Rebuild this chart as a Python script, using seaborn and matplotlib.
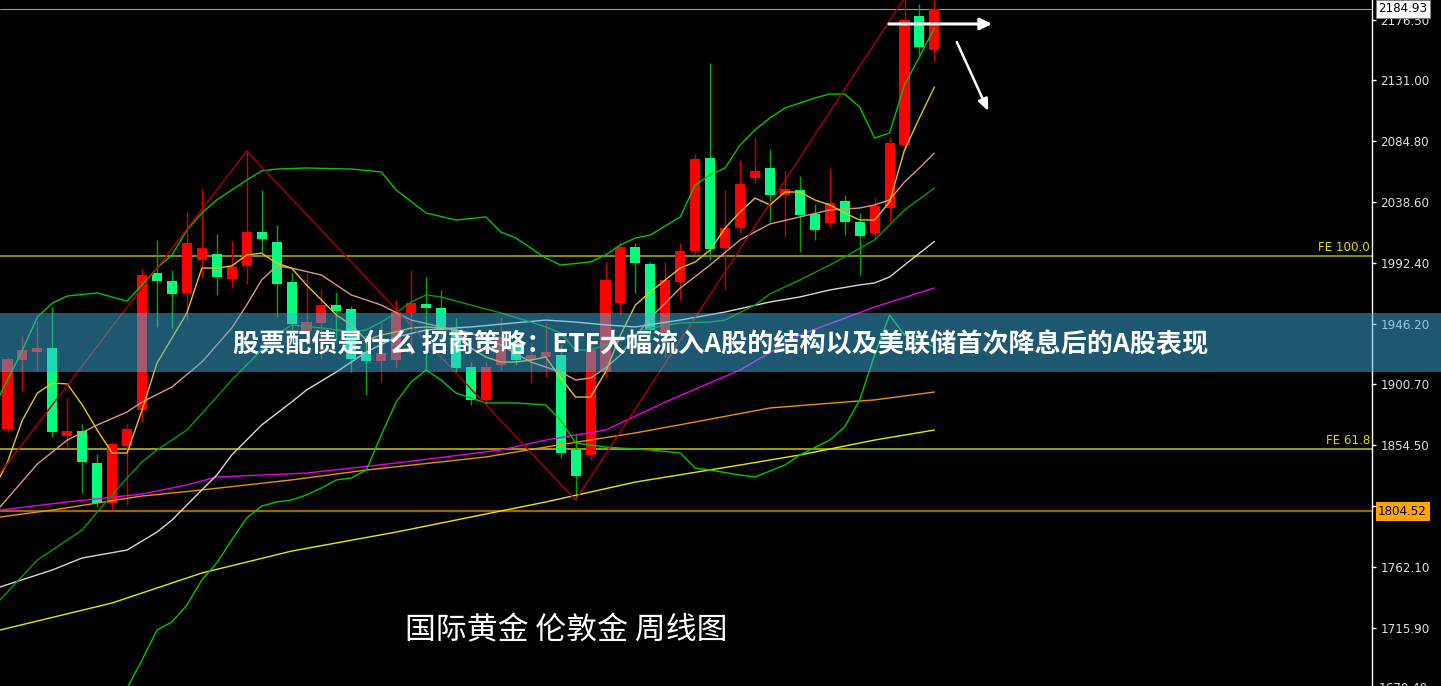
import numpy as np
import pandas as pd
import seaborn as sns
import matplotlib.pyplot as plt
from matplotlib.patches import Rectangle
from matplotlib.transforms import blended_transform_factory

# weekly gold candles
opens = [1866.7, 1918.9, 1925.0, 1928.0, 1861.4, 1865.2, 1840.9, 1810.6, 1853.8, 1881.1,
         1984.9, 1978.8, 1969.7, 1994.7, 1999.2, 1980.3, 1990.2, 2015.9, 2008.3, 1978.0,
         1940.9, 1947.0, 1960.6, 1957.6, 1925.0, 1918.2, 1918.9, 1954.6, 1961.4, 1958.3,
         1941.7, 1913.6, 1888.7, 1915.2, 1931.8, 1918.9, 1921.2, 1922.7, 1850.8, 1847.0,
         1909.9, 1962.1, 2004.6, 1991.7, 1939.4, 1978.0, 2001.5, 2072.0, 2003.8, 2018.9,
         2056.8, 2064.4, 2043.9, 2047.7, 2029.5, 2022.7, 2039.4, 2023.5, 2015.2, 2034.1,
         2081.8, 2179.5, 2153.8]
closes = [1919.7, 1926.5, 1928.0, 1864.4, 1865.2, 1841.7, 1810.6, 1855.3, 1866.7, 1983.3,
          1978.8, 1969.0, 2007.6, 2003.8, 1981.8, 1989.4, 2015.9, 2010.6, 1976.5, 1946.2,
          1947.7, 1960.6, 1956.1, 1919.7, 1918.2, 1924.2, 1955.3, 1962.1, 1958.3, 1941.7,
          1912.9, 1888.7, 1913.6, 1936.4, 1918.9, 1922.7, 1925.0, 1848.5, 1831.1, 1926.5,
          1979.6, 2004.6, 1992.4, 1941.7, 1979.6, 2001.5, 2071.2, 2003.0, 2018.9, 2052.3,
          2062.1, 2043.9, 2048.5, 2028.8, 2017.4, 2037.9, 2023.5, 2012.9, 2035.6, 2083.3,
          2176.5, 2156.0, 2184.93]
highs = [1921.2, 1937.1, 1948.5, 1959.1, 1890.2, 1870.5, 1847.7, 1856.8, 1870.5, 1987.9,
         2009.9, 1987.1, 2031.1, 2048.5, 2014.4, 2009.1, 2077.3, 2047.7, 2021.2, 1984.9,
         1984.9, 1972.7, 1970.5, 1959.8, 1937.9, 1947.0, 1964.4, 1987.1, 1981.8, 1972.0,
         1950.8, 1917.4, 1917.4, 1951.5, 1939.4, 1931.8, 1947.0, 1930.3, 1863.7, 1931.8,
         1993.2, 2008.3, 2007.6, 1993.2, 1993.2, 2007.6, 2075.0, 2143.9, 2047.7, 2070.4,
         2087.9, 2078.8, 2062.1, 2058.3, 2037.1, 2064.4, 2043.9, 2030.3, 2041.6, 2087.9,
         2193.2, 2188.6, 2191.6]
lows = [1864.4, 1895.5, 1910.6, 1860.6, 1853.0, 1818.2, 1807.6, 1805.3, 1809.1, 1872.0,
        1944.0, 1943.2, 1949.2, 1981.1, 1968.2, 1973.5, 1976.5, 2000.7, 1951.5, 1941.7,
        1930.3, 1920.5, 1934.1, 1909.9, 1892.4, 1902.3, 1912.9, 1922.7, 1911.4, 1934.1,
        1909.9, 1884.9, 1884.9, 1911.4, 1915.2, 1901.5, 1906.1, 1844.7, 1812.9, 1843.2,
        1905.3, 1953.0, 1969.7, 1934.1, 1921.2, 1964.4, 1998.5, 1994.7, 1972.0, 2015.2,
        2053.0, 2023.5, 2012.1, 2000.7, 2009.9, 2019.7, 2013.6, 1983.3, 2011.4, 2023.5,
        2078.0, 2150.0, 2145.4]

# indicator lines (candle index, price)
fast_ma_idx = [-0.5] + list(range(63))
fast_ma = [1830.3,
           1841.7, 1873.5, 1893.9, 1901.5, 1900.8, 1884.9, 1865.9, 1848.5, 1848.5, 1881.1,
           1916.7, 1935.6, 1954.6, 1988.6, 1988.6, 1990.2, 1998.5, 1999.9, 1992.4, 1988.6,
           1975.8, 1964.4, 1953.0, 1945.5, 1934.1, 1937.9, 1940.2, 1943.2, 1944.0, 1943.2,
           1941.7, 1928.0, 1921.2, 1917.4, 1917.4, 1918.9, 1921.2, 1905.3, 1890.9, 1890.9,
           1909.9, 1937.9, 1960.6, 1970.5, 1979.6, 1988.6, 1993.2, 2002.3, 2018.9, 2031.1,
           2041.6, 2036.4, 2046.2, 2046.2, 2040.2, 2036.4, 2030.3, 2025.0, 2025.0, 2038.6,
           2078.0, 2102.3, 2125.7]

salmon_idx = [-0.5, 2, 4, 6, 8, 9, 11, 13, 15, 16, 17, 18, 19, 21, 23, 25, 27, 29, 31, 33,
              35, 37, 38, 39, 40, 41, 43, 45, 47, 49, 51, 53, 55, 57, 58, 59, 60, 61, 62]
salmon_ma = [1807.6, 1840.2, 1858.3, 1869.7, 1879.6, 1887.1, 1898.5, 1917.4, 1943.2, 1960.6,
             1979.6, 1990.2, 1988.6, 1983.3, 1968.2, 1960.6, 1949.2, 1944.0, 1939.4, 1930.3,
             1917.4, 1909.9, 1903.8, 1905.3, 1912.9, 1922.7, 1950.8, 1973.5, 1990.9, 2009.9,
             2022.0, 2027.3, 2032.6, 2034.1, 2036.4, 2040.2, 2053.8, 2064.4, 2075.7]

bb_up_idx = [-0.5, 1, 2, 3, 4, 6, 8, 9, 10, 11, 12, 13, 14, 15, 16, 17, 18, 20, 23, 25,
             26, 28, 30, 32, 33, 34, 36, 37, 39, 40, 41, 42, 43, 44, 45, 46, 47, 48, 49, 50,
             51, 52, 53, 54, 55, 56, 57, 58, 59, 60, 61, 62]
bb_up = [1892.4, 1926.5, 1951.5, 1962.1, 1967.4, 1969.7, 1963.6, 1975.8, 1988.6, 1998.5,
         2017.4, 2030.3, 2040.2, 2047.7, 2055.3, 2062.1, 2063.6, 2064.4, 2063.6, 2061.4,
         2047.7, 2030.3, 2025.0, 2027.3, 2015.9, 2011.4, 1996.2, 1990.9, 1993.2, 1998.5,
         2006.1, 2011.4, 2013.6, 2020.5, 2027.3, 2051.5, 2059.1, 2064.4, 2081.8, 2093.2,
         2102.3, 2109.8, 2113.6, 2117.4, 2120.4, 2120.4, 2110.6, 2087.1, 2090.9, 2127.3,
         2148.5, 2170.4]

bb_mid_idx = [-0.5, 2, 4, 5, 6, 8, 9, 10, 12, 14, 15, 16, 17, 18, 19, 21, 23, 24, 25, 26,
              27, 28, 29, 31, 33, 35, 36, 37, 38, 39, 41, 43, 45, 47, 48, 50, 51, 53, 55, 56,
              58, 59, 60, 62]
bb_mid = [1737.2, 1767.4, 1782.6, 1790.2, 1803.8, 1829.6, 1841.7, 1850.8, 1865.9, 1890.9,
          1903.8, 1915.2, 1926.5, 1937.9, 1945.5, 1943.2, 1940.2, 1941.7, 1947.7, 1954.6,
          1962.9, 1968.2, 1966.7, 1960.6, 1954.6, 1947.7, 1944.0, 1939.4, 1926.5, 1926.5,
          1934.1, 1943.2, 1947.0, 1947.7, 1949.2, 1960.6, 1969.0, 1979.6, 1990.9, 1997.0,
          2009.9, 2021.2, 2032.6, 2049.2]

bb_low_idx = [8, 9, 10, 11, 12, 13, 14, 15, 16, 17, 18, 19, 20, 21, 22, 23, 24, 25, 26, 27,
              28, 29, 30, 31, 32, 34, 36, 37, 38, 40, 43, 45, 46, 47, 49, 50, 52, 53, 55, 56,
              57, 58, 59, 60, 62]
bb_low = [1670.5, 1691.7, 1714.4, 1720.5, 1733.3, 1752.3, 1765.2, 1782.6, 1799.3, 1808.3,
          1811.4, 1812.9, 1816.7, 1822.0, 1828.1, 1829.6, 1835.6, 1862.1, 1887.1, 1902.3,
          1911.4, 1903.8, 1893.9, 1890.2, 1886.4, 1886.4, 1884.9, 1873.5, 1856.1, 1853.0,
          1850.8, 1848.5, 1837.1, 1835.6, 1831.8, 1830.3, 1839.4, 1847.0, 1858.3, 1868.2,
          1888.7, 1922.7, 1953.0, 1937.9, 1928.8]

gray_idx = [-0.5, 3, 5, 8, 10, 11, 12, 13, 14, 15, 17, 19, 20, 22, 24, 26, 28, 31, 36, 38,
            40, 42, 45, 48, 51, 53, 55, 57, 58, 59, 60, 62]
gray_ma = [1747.0, 1759.9, 1769.0, 1775.0, 1788.6, 1797.7, 1809.1, 1820.5, 1831.8, 1847.0,
           1869.7, 1887.1, 1896.2, 1909.9, 1925.0, 1936.4, 1941.7, 1944.0, 1949.2, 1947.7,
           1945.5, 1944.0, 1949.2, 1955.3, 1962.9, 1966.7, 1972.0, 1975.8, 1977.3, 1981.8,
           1990.9, 2008.7]

magenta_idx = [-0.5, 4, 9, 12, 14, 20, 26, 33, 36, 40, 44, 49, 53, 58, 62]
magenta_ma = [1805.3, 1811.4, 1817.4, 1824.3, 1830.3, 1833.3, 1840.9, 1850.8, 1858.3, 1865.9,
              1887.1, 1911.4, 1937.9, 1959.1, 1973.5]

orange_idx = [-0.5, 3, 9, 13, 19, 24, 32, 36, 42, 46, 51, 56, 58, 62]
orange_ma = [1800.0, 1805.3, 1815.9, 1820.5, 1828.1, 1835.6, 1845.5, 1853.0, 1863.7, 1872.0,
             1882.6, 1887.1, 1888.7, 1894.7]

slow_idx = [-0.5, 7, 13, 19, 26, 36, 42, 49, 53, 58, 62]
slow_ma = [1714.4, 1734.9, 1757.6, 1774.2, 1788.6, 1811.4, 1826.5, 1839.4, 1847.0, 1858.3, 1865.9]

zigzag_idx = [-1, 16, 38, 60]
zigzag = [1825.8, 2077.3, 1812.9, 2193.2]

fe_100 = 1997.7
fe_618 = 1851.5
level_line = 1804.52
last_price = 2184.93

y_ticks = [2176.50, 2131.00, 2084.80, 2038.60, 1992.40, 1946.20, 1900.70,
           1854.50, 1808.30, 1762.10, 1715.90]
title = '股票配债是什么 招商策略：ETF大幅流入A股的结构以及美联储首次降息后的A股表现'
subtitle = '国际黄金 伦敦金 周线图'

sns.set_style('dark', {'axes.facecolor': 'black', 'figure.facecolor': 'black'})
plt.rcParams['font.family'] = ['Noto Sans CJK SC', 'DejaVu Sans']

W, H = 1441, 686
fig = plt.figure(figsize=(W / 100, H / 100), dpi=100)
ax = fig.add_axes([0, 0, 1372 / W, 1])
ax.set_facecolor('black')
ax.grid(False)

# horizontal levels
ax.axhline(last_price, color='#9A9A9A', lw=0.8, zorder=1)
ax.axhline(fe_100, color='#B4B400', lw=1.1, zorder=1)
ax.axhline(fe_618, color='#C8C800', lw=1.1, zorder=1)
ax.axhline(level_line, color='#9C640C', lw=1.6, zorder=1)

# candles
df = pd.DataFrame({'o': opens, 'h': highs, 'l': lows, 'c': closes})
df['i'] = np.arange(len(df))
up = df['c'] >= df['o']
ax.vlines(df['i'], df['l'], df['h'], colors=np.where(up, '#D00000', '#00A800'), lw=1, zorder=2)
body = np.maximum((df['c'] - df['o']).abs(), 0.8)
ax.bar(df['i'], body, bottom=np.minimum(df['o'], df['c']), width=0.67,
       color=np.where(up, '#FF0000', '#00FF7F'), linewidth=0, zorder=3)

# indicators
lines = [
    (slow_idx, slow_ma, '#E8E800'),
    (orange_idx, orange_ma, '#E89400'),
    (magenta_idx, magenta_ma, '#E600E6'),
    (gray_idx, gray_ma, '#D8D8D8'),
    (bb_low_idx, bb_low, '#00C800'),
    (bb_mid_idx, bb_mid, '#00A000'),
    (bb_up_idx, bb_up, '#00C800'),
    (salmon_idx, salmon_ma, '#E0987A'),
    (fast_ma_idx, fast_ma, '#E8C800'),
    (zigzag_idx, zigzag, '#B00000'),
]
for xs, ys, col in lines:
    sns.lineplot(x=xs, y=ys, ax=ax, color=col, lw=1, estimator=None, sort=False,
                 legend=False, zorder=4)

# arrows
ax.annotate('', xy=(65.85, 2173.5), xytext=(58.96, 2173.5),
            arrowprops=dict(arrowstyle='-|>,head_length=0.7,head_width=0.35',
                            color='white', lw=2.2, shrinkA=0, shrinkB=0), zorder=6)
ax.annotate('', xy=(65.6, 2107.6), xytext=(63.5, 2159.8),
            arrowprops=dict(arrowstyle='-|>,head_length=0.7,head_width=0.3',
                            color='white', lw=1.8, shrinkA=0, shrinkB=0), zorder=6)

ax.set_xlim(-7.5 / 14.95, (1372 - 7.5) / 14.95)
ax.set_ylim(1672.0, 2191.65)
ax.set_xlabel('')
ax.set_ylabel('')
ax.set_xticks([])

# price axis on the right
for s in ['left', 'top', 'bottom']:
    ax.spines[s].set_visible(False)
ax.spines['right'].set_visible(True)
ax.spines['right'].set_color('white')
ax.spines['right'].set_linewidth(1)
ax.yaxis.tick_right()
ax.set_yticks(y_ticks)
ax.set_yticklabels([f'{t:.2f}' for t in y_ticks])
ax.tick_params(axis='y', which='both', right=True, left=False, labelright=True, labelleft=False,
               direction='out', length=3, width=1, color='white', labelcolor='#E0E0E0',
               labelsize=8.6, pad=3)
for lbl in ax.get_yticklabels():
    lbl.set_fontfamily('DejaVu Sans')

tr = blended_transform_factory(ax.transAxes, ax.transData)
ax.text(1 + 7 / 1372, 1670.40, '1670.40', transform=tr, ha='left', va='center',
        color='#E0E0E0', fontsize=8.6, family='DejaVu Sans', clip_on=False)
ax.text(1370 / 1372, fe_100 + 1.5, 'FE 100.0', transform=tr, ha='right', va='bottom',
        color='#DCDC00', fontsize=8.6, family='DejaVu Sans')
ax.text(1370 / 1372, fe_618 + 1.5, 'FE 61.8', transform=tr, ha='right', va='bottom',
        color='#DCDC00', fontsize=8.6, family='DejaVu Sans')
ax.text(1 + 6 / 1372, last_price, f'{last_price:.2f}', transform=tr, ha='left', va='center',
        color='black', fontsize=8.6, family='DejaVu Sans', clip_on=False, zorder=7,
        bbox=dict(boxstyle='square,pad=0.2', fc='white', ec='#808080', lw=0.8))
ax.text(1 + 6 / 1372, level_line, f'{level_line:.2f}', transform=tr, ha='left', va='center',
        color='black', fontsize=8.6, family='DejaVu Sans', clip_on=False, zorder=7,
        bbox=dict(boxstyle='square,pad=0.2', fc='#FFA500', ec='#FFA500', lw=0.8))

# title banner over the whole image
fig.add_artist(Rectangle((0, (H - 372) / H), 1, 59 / H, transform=fig.transFigure,
                         facecolor='#3FB4E5', alpha=0.49, lw=0, zorder=10))
fig.text(0.5, (H - 345) / H, title, ha='center', va='center', color='white',
         fontsize=18.8, fontweight='bold', zorder=11)
fig.text(566 / W, (H - 631) / H, subtitle, ha='center', va='center', color='white',
         fontsize=22.2, zorder=11)

fig.savefig('out.png', dpi=100, facecolor='black')
